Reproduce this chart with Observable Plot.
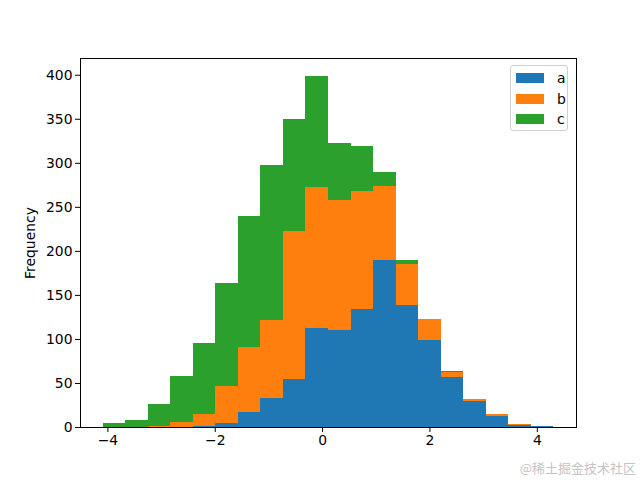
<!DOCTYPE html>
<html>
<head>
<meta charset="utf-8">
<script src="https://cdn.jsdelivr.net/npm/d3@7"></script>
<script src="https://cdn.jsdelivr.net/npm/@observablehq/plot@0.6"></script>
<style>
  html, body { margin: 0; padding: 0; background: #fff; }
  #wrap { position: relative; width: 640px; height: 480px; font-family: "DejaVu Sans", sans-serif; }
  #legend { position: absolute; left: 510px; top: 65px; width: 58px; height: 66px; border: 1px solid #d0d0d0; border-radius: 3px; background: rgba(255,255,255,0.8); box-sizing: border-box; }
  .item { position: absolute; left: 5px; height: 10px; width: 28px; }
  .lab { position: absolute; left: 46px; font-size: 13.9px; line-height: 14px; color: #000; }
  #wm { position: absolute; right: 4px; top: 458px; font-family: "Noto Sans CJK SC", sans-serif; font-size: 13px; color: #c4c4c4; }
</style>
</head>
<body>
<div id="wrap"></div>
<script>
// Shared bin edges (20 bins)
const edges = [-4.09, -3.67, -3.25, -2.83, -2.41, -1.99, -1.57, -1.15, -0.73, -0.31, 0.11, 0.53, 0.95, 1.37, 1.79, 2.21, 2.63, 3.05, 3.47, 3.89, 4.31];
// Counts per bin for each series
const seriesNames = ["a", "b", "c"];
const countsA = [0, 0, 0, 0, 1, 4, 17, 33, 54, 112, 110, 134, 190, 139, 99, 57, 30, 13, 2, 1];
const countsB = [0, 0, 1, 6, 14, 43, 74, 88, 169, 161, 148, 134, 84, 46, 24, 6, 2, 2, 1, 0];
const countsC = [4, 8, 25, 52, 80, 116, 149, 176, 127, 126, 65, 51, 15, 5, 0, 1, 0, 0, 0, 0];
const colors = ["#1f77b4", "#ff7f0e", "#2ca02c"];
const yTicks = [0, 50, 100, 150, 200, 250, 300, 350, 400];
const xTicks = [-4, -2, 0, 2, 4];

const allCounts = [countsA, countsB, countsC];
const rows = [];
seriesNames.forEach((s, si) => {
  allCounts[si].forEach((v, i) => {
    rows.push({series: s, x1: edges[i], x2: edges[i + 1], count: v});
  });
});

const chart = Plot.plot({
  width: 640,
  height: 480,
  marginLeft: 80,
  marginRight: 64,
  marginTop: 58,
  marginBottom: 53,
  style: {fontFamily: "DejaVu Sans, sans-serif", fontSize: "13.9px", background: "#fff", color: "#000"},
  x: {domain: [-4.51, 4.73], ticks: xTicks, tickFormat: d => (d < 0 ? "\u2212" + Math.abs(d) : String(d))},
  y: {domain: [0, 419], ticks: yTicks},
  color: {domain: seriesNames, range: colors},
  marks: [
    Plot.rectY(rows, {x1: "x1", x2: "x2", y: "count", fill: "series", inset: 0, order: seriesNames, shapeRendering: "crispEdges"}),
    Plot.axisX({ticks: xTicks, tickSize: 5, tickPadding: 3, label: null, stroke: "#000", tickFormat: d => (d < 0 ? "\u2212" + Math.abs(d) : String(d))}),
    Plot.axisY({ticks: yTicks, tickSize: 5, tickPadding: 3, label: "Frequency", labelAnchor: "center", labelArrow: "none", labelOffset: 55, stroke: "#000"}),
    Plot.frame({stroke: "#000", strokeWidth: 1})
  ]
});
const wrap = document.getElementById("wrap");
wrap.appendChild(chart);

const leg = document.createElement("div");
leg.id = "legend";
seriesNames.forEach((s, i) => {
  const sw = document.createElement("div");
  sw.className = "item";
  sw.style.top = (7 + i * 20.5) + "px";
  sw.style.background = colors[i];
  leg.appendChild(sw);
  const lb = document.createElement("div");
  lb.className = "lab";
  lb.style.top = (5 + i * 20.5) + "px";
  lb.textContent = s;
  leg.appendChild(lb);
});
wrap.appendChild(leg);

const wm = document.createElement("div");
wm.id = "wm";
wm.textContent = "@稀土掘金技术社区";
wrap.appendChild(wm);
</script>
</body>
</html>
